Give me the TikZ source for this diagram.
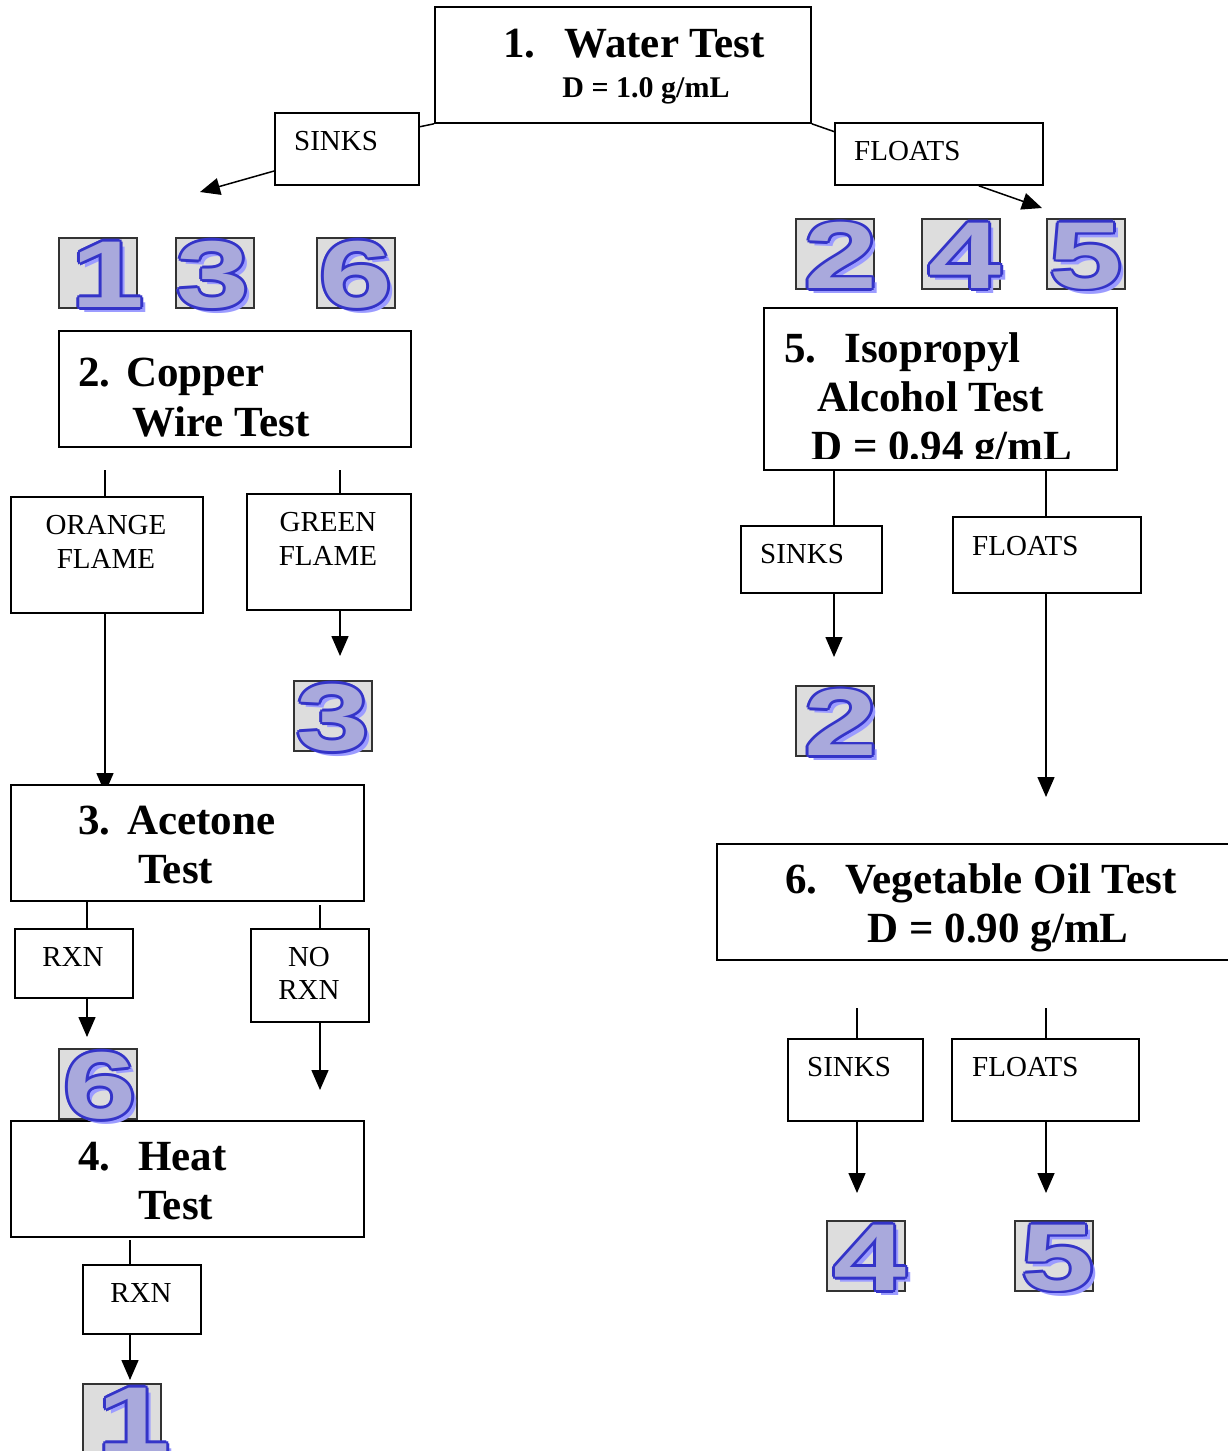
\documentclass[tikz,border=0pt]{standalone}
\usepackage{fontspec}
\usepackage{graphicx}
\setmainfont{Liberation Serif}
\newfontfamily\digitfont{Liberation Sans}
\usetikzlibrary{arrows.meta,calc}

\definecolor{numline}{HTML}{3434C8}
\definecolor{numfill}{HTML}{A9A9DC}
\definecolor{numshadow}{HTML}{9C9CFF}
\definecolor{iconbg}{HTML}{DDDDDD}

\tikzset{
  box/.style={draw=black, line width=1.8pt, fill=white, inner sep=0pt, anchor=north west},
  conn/.style={line width=1.5pt},
  arr/.style={conn, -{Triangle[length=20pt,width=17pt]}},
  big/.style={font=\fontsize{43}{47}\selectfont\bfseries, inner sep=0pt, anchor=base west},
  mid/.style={font=\fontsize{30}{34}\selectfont\bfseries, inner sep=0pt, anchor=base},
  lbl/.style={font=\fontsize{29}{33}\selectfont, inner sep=0pt, anchor=base west},
  clbl/.style={lbl, anchor=base},
  iconsq/.style={draw=black!80, line width=1.6pt, fill=iconbg, anchor=north west,
    minimum width=78pt, minimum height=70pt, inner sep=0pt},
  digit/.style={font=\digitfont\bfseries\fontsize{95}{95}\selectfont, inner sep=0pt},
}

% rectangle box from its upper left to its lower right corner
\newcommand\flowbox[5]{%
  \pgfmathsetmacro\bw{#4-#2}\pgfmathsetmacro\bh{#5-#3}%
  \node[box, minimum width=\bw pt, minimum height=\bh pt] (#1) at (#2,#3) {};}

% grey square with an outlined, shadowed numeral
\newcommand\numicon[5]{%
  \node[iconsq] (#1) at (#2,#3) {};
  \node[digit, text=numshadow] (#1-s) at ($(#1.center)+(#5+5,7)$) {\scalebox{1.38}[1]{#4}};
  \foreach \a in {0,45,...,315}
    \node[digit, text=numline] at ($(#1.center)+(#5,2)+(\a:2.8)$) {\scalebox{1.38}[1]{#4}};
  \node[digit, text=numfill] (#1-n) at ($(#1.center)+(#5,2)$) {\scalebox{1.38}[1]{#4}};}

\begin{document}
\begin{tikzpicture}[x=1pt, y=-1pt]
\useasboundingbox (0,0) rectangle (1228,1451);
\clip (0,0) rectangle (1228,1451);

% ---------- water test ----------
\flowbox{water}{434}{6}{810}{122}
\node[big] (waterT) at (503,57) {1.\hspace{29pt}Water Test};
\node[mid] (waterD) at (646,97) {D = 1.0 g/mL};

\flowbox{sinksT}{274}{112}{418}{184}
\node[lbl] (sinksTt) at (294,150) {SINKS};
\flowbox{floatsT}{834}{122}{1042}{184}
\node[lbl] (floatsTt) at (854,160) {FLOATS};

\coordinate (sinksTip) at (200,192);
\coordinate (floatsTip) at (1042,208);
\draw[conn] (water.south west) -- ($(sinksT.north east)!0.2!(sinksT.south east)$);
\draw[arr] ($(sinksT.north west)!0.8!(sinksT.south west)$) -- (sinksTip);
\draw[conn] (water.south east) -- ($(floatsT.north west)!0.15!(floatsT.south west)$);
\draw[arr] ($(floatsT.south west)!0.69!(floatsT.south east)$) -- (floatsTip);

% ---------- copper wire test ----------
\flowbox{copper}{58}{330}{410}{446}
\node[big] (copperA) at (78,386) {2.\hspace{16pt}Copper};
\node[big] (copperB) at (132,436) {Wire Test};

\flowbox{orange}{10}{496}{202}{612}
\node[clbl] (orangeA) at (106,534) {ORANGE};
\node[clbl] (orangeB) at (106,568) {FLAME};
\flowbox{green}{246}{493}{410}{609}
\node[clbl] (greenA) at (328,531) {GREEN};
\node[clbl] (greenB) at (328,565) {FLAME};

\coordinate (orStub) at (105,470);
\coordinate (grStub) at (340,470);
\coordinate (orTip) at (105,793);
\coordinate (grTip) at (340,656);
\draw[conn] (orStub) -- (orStub |- orange.north);
\draw[conn] (grStub) -- (grStub |- green.north);
\draw[arr] (orStub |- orange.south) -- (orTip);
\draw[arr] (grStub |- green.south) -- (grTip);

% ---------- acetone test ----------
\flowbox{acetone}{10}{784}{363}{900}
\node[big] (acetoneA) at (78,834) {3.\hspace{17pt}Acetone};
\node[big] (acetoneB) at (138,883) {Test};

\flowbox{rxnA}{14}{928}{132}{997}
\node[clbl] (rxnAt) at (73,966) {RXN};
\flowbox{norxn}{250}{928}{368}{1021}
\node[clbl] (norxnA) at (309,966) {NO};
\node[clbl] (norxnB) at (309,999) {RXN};

\coordinate (aRx) at (87,900);
\coordinate (aNo) at (320,905);
\coordinate (aRxTip) at (87,1037);
\coordinate (aNoTip) at (320,1090);
\draw[conn] (aRx) -- (aRx |- rxnA.north);
\draw[conn] (aNo) -- (aNo |- norxn.north);
\draw[arr] (aRx |- rxnA.south) -- (aRxTip);
\draw[arr] (aNo |- norxn.south) -- (aNoTip);

% ---------- heat test ----------
\flowbox{heat}{10}{1120}{363}{1236}
\node[big] (heatA) at (78,1170) {4.\hspace{28pt}Heat};
\node[big] (heatB) at (138,1219) {Test};

\flowbox{rxnH}{82}{1264}{200}{1333}
\node[clbl] (rxnHt) at (141,1302) {RXN};
\coordinate (hRx) at (130,1240);
\coordinate (hRxTip) at (130,1380);
\draw[conn] (hRx) -- (hRx |- rxnH.north);
\draw[arr] (hRx |- rxnH.south) -- (hRxTip);

% ---------- isopropyl alcohol test ----------
\flowbox{iso}{763}{307}{1116}{469}
\begin{scope}
  \clip (763,307) rectangle (1116,458);
  \node[big] (isoA) at (784,362) {5.\hspace{28pt}Isopropyl};
  \node[big] (isoB) at (817,411) {Alcohol Test};
  \node[big] (isoC) at (811,460) {D = 0.94 g/mL};
\end{scope}

\flowbox{sinksI}{740}{525}{881}{592}
\node[lbl] (sinksIt) at (760,563) {SINKS};
\flowbox{floatsI}{952}{516}{1140}{592}
\node[lbl] (floatsIt) at (972,555) {FLOATS};

\coordinate (iS) at (834,469);
\coordinate (iF) at (1046,469);
\coordinate (iSTip) at (834,657);
\coordinate (iFTip) at (1046,797);
\draw[conn] (iS) -- (iS |- sinksI.north);
\draw[conn] (iF) -- (iF |- floatsI.north);
\draw[arr] (iS |- sinksI.south) -- (iSTip);
\draw[arr] (iF |- floatsI.south) -- (iFTip);

% ---------- vegetable oil test ----------
\flowbox{veg}{716}{843}{1240}{959}
\node[big] (vegA) at (785,893) {6.\hspace{28pt}Vegetable Oil Test};
\node[big, anchor=base] (vegB) at (998,942) {D = 0.90 g/mL};

\flowbox{sinksV}{787}{1038}{922}{1120}
\node[lbl] (sinksVt) at (807,1076) {SINKS};
\flowbox{floatsV}{951}{1038}{1138}{1120}
\node[lbl] (floatsVt) at (972,1076) {FLOATS};

\coordinate (vS) at (857,1008);
\coordinate (vF) at (1046,1008);
\coordinate (vSTip) at (857,1193);
\coordinate (vFTip) at (1046,1193);
\draw[conn] (vS) -- (vS |- sinksV.north);
\draw[conn] (vF) -- (vF |- floatsV.north);
\draw[arr] (vS |- sinksV.south) -- (vSTip);
\draw[arr] (vF |- floatsV.south) -- (vFTip);

% ---------- numbered samples ----------
\numicon{s1a}{58}{237}{1}{10}
\numicon{s3a}{175}{237}{3}{-2}
\numicon{s6a}{316}{237}{6}{0}
\numicon{s2a}{795}{218}{2}{6}
\numicon{s4a}{921}{218}{4}{4}
\numicon{s5a}{1046}{218}{5}{0}
\numicon{s3b}{293}{680}{3}{0}
\numicon{s2b}{795}{685}{2}{6}
\numicon{s6b}{58}{1048}{6}{2}
\numicon{s1b}{82}{1383}{1}{12}
\numicon{s4b}{826}{1220}{4}{4}
\numicon{s5b}{1014}{1220}{5}{4}
\end{tikzpicture}
\end{document}
